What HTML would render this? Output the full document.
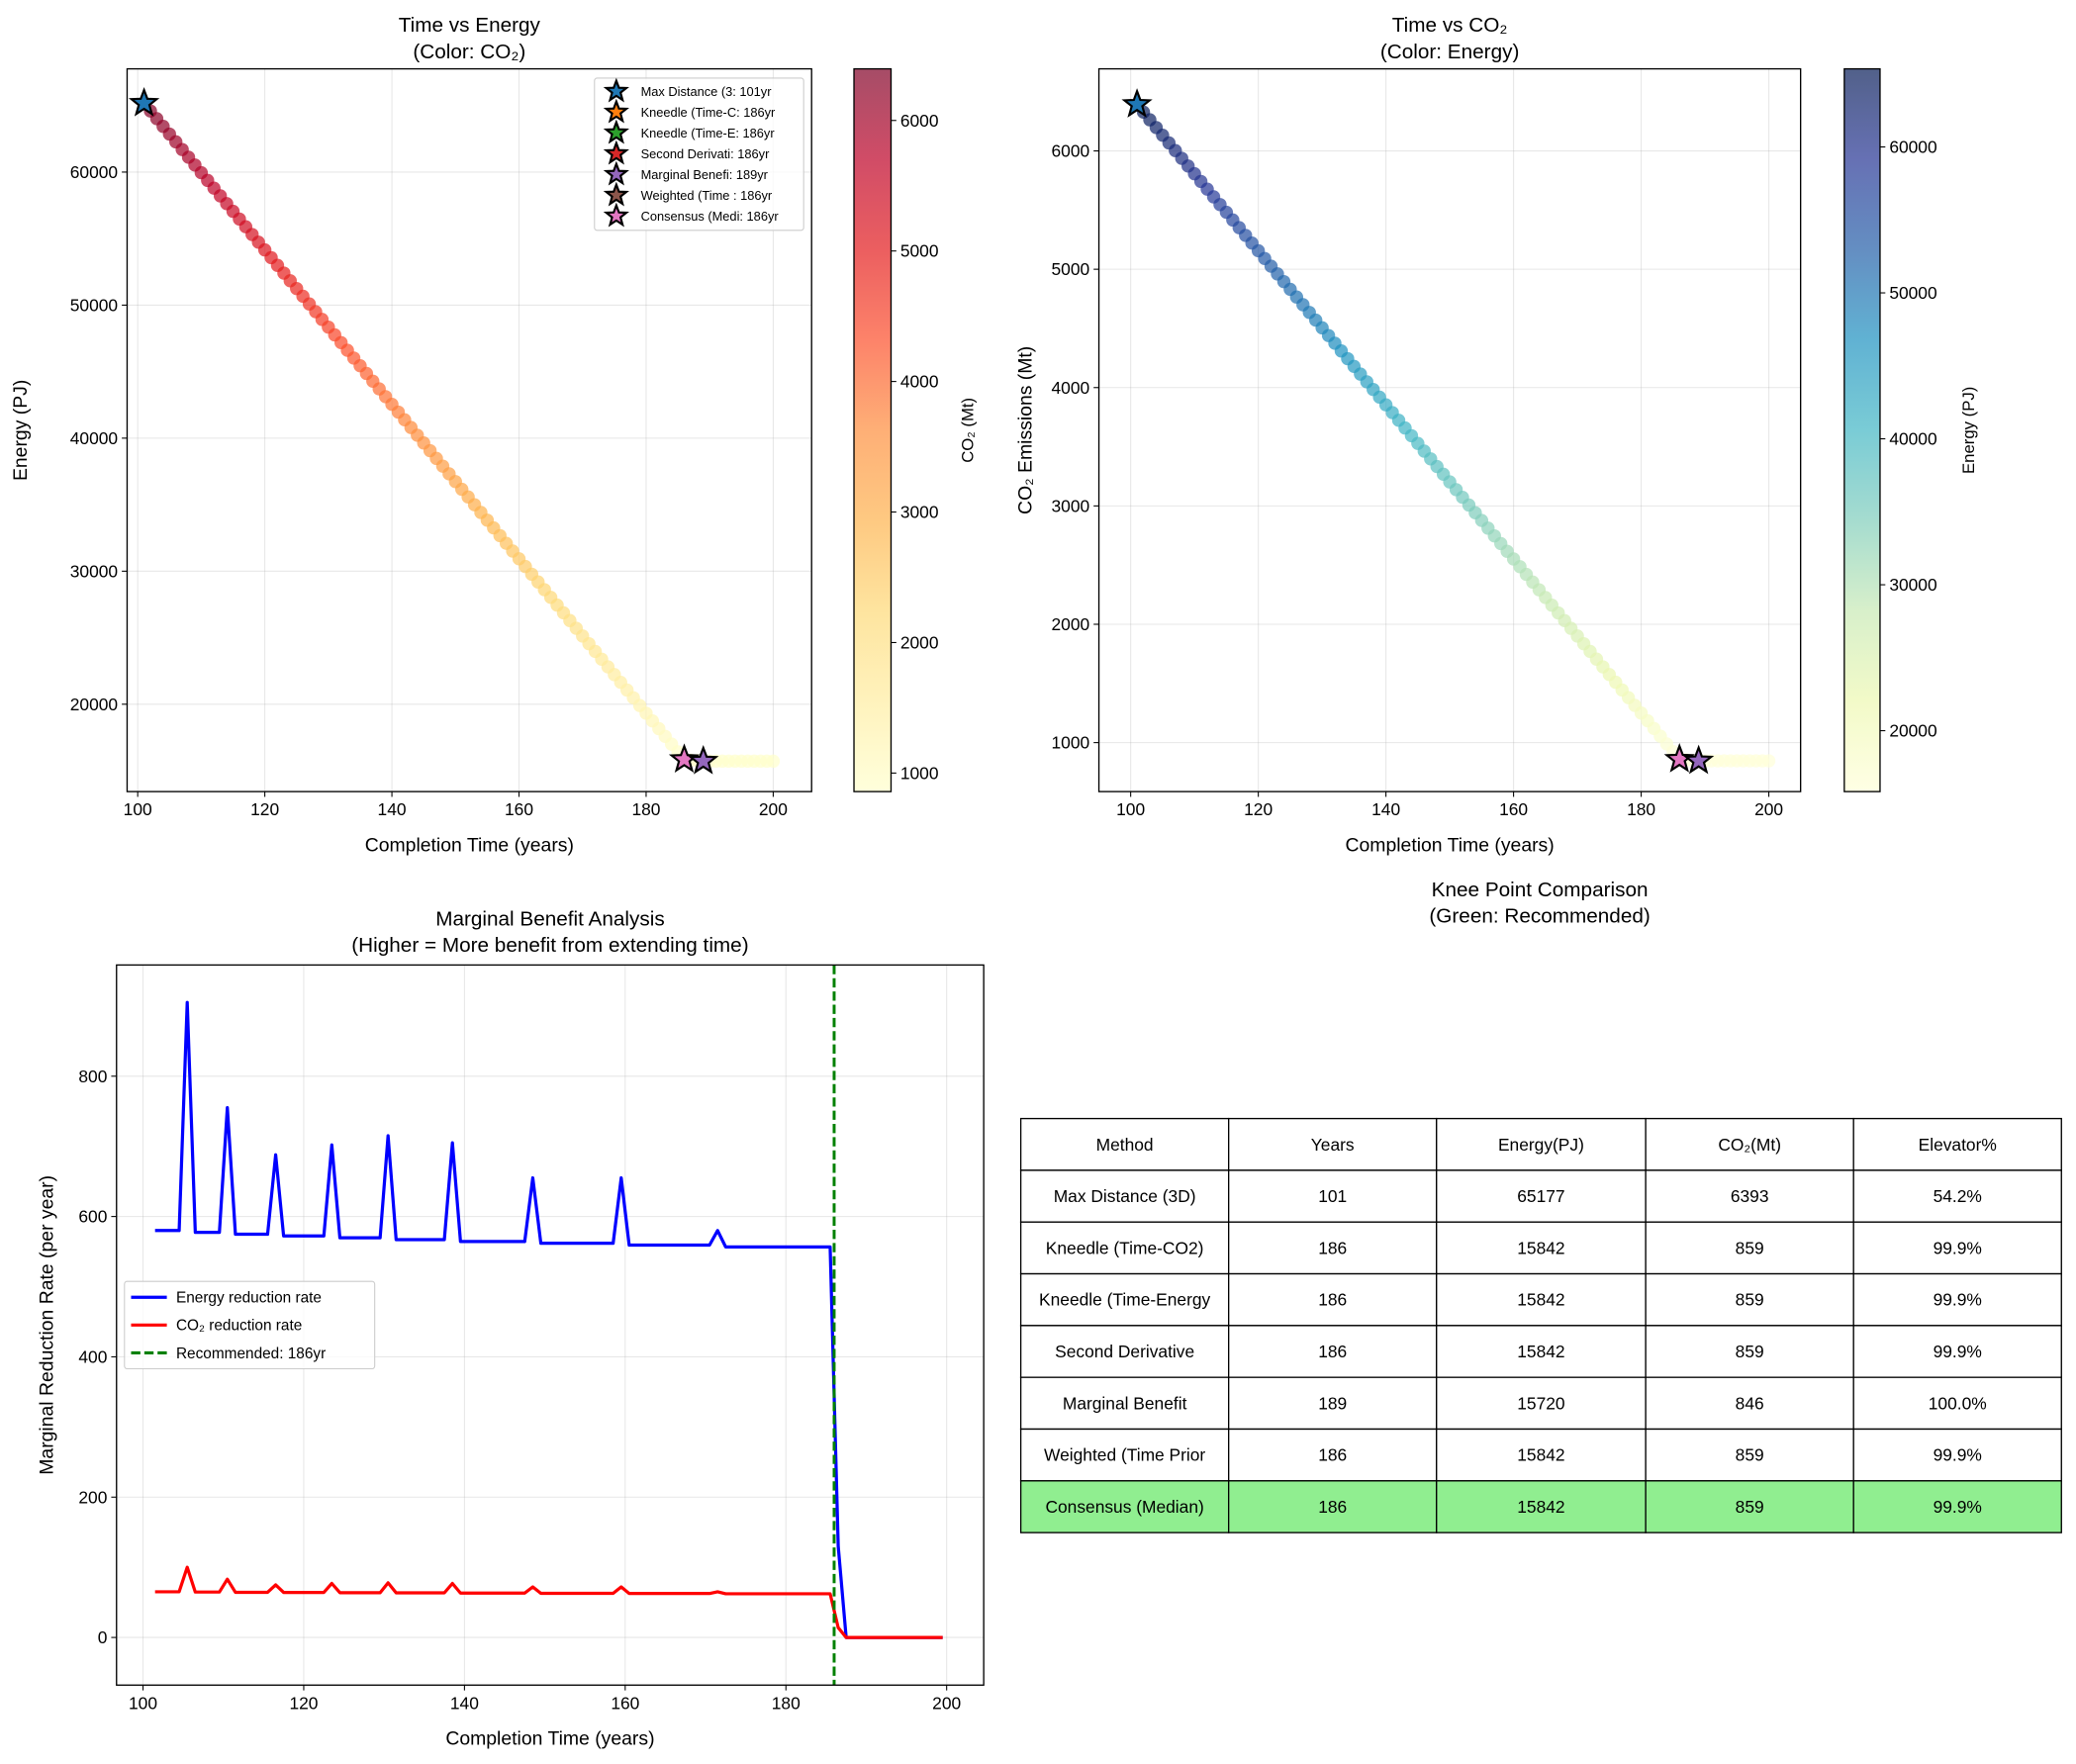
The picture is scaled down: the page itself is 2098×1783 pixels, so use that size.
<!DOCTYPE html>
<html><head><meta charset="utf-8"><style>
html,body{margin:0;padding:0;background:#fff}
svg{display:block}
text{font-family:"Liberation Sans",Arial,sans-serif;fill:#000}
</style></head><body>
<svg id="s" width="2098" height="1783" viewBox="0 0 1568 1332.6" xmlns="http://www.w3.org/2000/svg">
<rect width="1568" height="1333" fill="#fff"/>
<defs>
<linearGradient id="gYOR" x1="0" y1="1" x2="0" y2="0">
<stop offset="0" stop-color="#ffffcc"/><stop offset=".125" stop-color="#ffeda0"/><stop offset=".25" stop-color="#fed976"/><stop offset=".375" stop-color="#feb24c"/><stop offset=".5" stop-color="#fd8d3c"/><stop offset=".625" stop-color="#fc4e2a"/><stop offset=".75" stop-color="#e31a1c"/><stop offset=".875" stop-color="#bd0026"/><stop offset="1" stop-color="#800026"/>
</linearGradient>
<linearGradient id="gYGB" x1="0" y1="1" x2="0" y2="0">
<stop offset="0" stop-color="#ffffd9"/><stop offset=".125" stop-color="#edf8b1"/><stop offset=".25" stop-color="#c7e9b4"/><stop offset=".375" stop-color="#7fcdbb"/><stop offset=".5" stop-color="#41b6c4"/><stop offset=".625" stop-color="#1d91c0"/><stop offset=".75" stop-color="#225ea8"/><stop offset=".875" stop-color="#253494"/><stop offset="1" stop-color="#081d58"/>
</linearGradient>
</defs>
<g id="g"></g>
</svg>
<script>
const NS="http://www.w3.org/2000/svg",G=document.getElementById('g');
function el(t,a,txt){const e=document.createElementNS(NS,t);for(const k in a)e.setAttribute(k,a[k]);if(txt!==undefined)e.textContent=txt;G.appendChild(e);return e;}
function T(x,y,s,size,anchor,extra){const a={x:x,y:y,'font-size':size,'text-anchor':anchor||'middle'};if(extra)Object.assign(a,extra);return el('text',a,s);}
function hex(h){return [parseInt(h.substr(1,2),16),parseInt(h.substr(3,2),16),parseInt(h.substr(5,2),16)];}
function cmap(stops,v){v=Math.max(0,Math.min(1,v));const n=stops.length-1,i=Math.min(n-1,Math.floor(v*n)),f=v*n-i;const a=hex(stops[i]),b=hex(stops[i+1]);return 'rgb('+a.map((c,k)=>Math.round(c+(b[k]-c)*f)).join(',')+')';}
const YOR=["#ffffcc","#ffeda0","#fed976","#feb24c","#fd8d3c","#fc4e2a","#e31a1c","#bd0026","#800026"];
const YGB=["#ffffd9","#edf8b1","#c7e9b4","#7fcdbb","#41b6c4","#1d91c0","#225ea8","#253494","#081d58"];
function star(cx,cy,r,fill){let p=[];for(let i=0;i<10;i++){const a=-Math.PI/2+i*Math.PI/5,rr=i%2?r*0.42:r;p.push((cx+rr*Math.cos(a)).toFixed(1)+','+(cy+rr*Math.sin(a)).toFixed(1));}el('polygon',{points:p.join(' '),fill:fill,stroke:'#000','stroke-width':1.6,'stroke-linejoin':'miter'});}
const pts=[];
for(let t=101;t<=200;t++){let E,C;if(t<=186){E=65177+(15842-65177)*(t-101)/85;C=6393+(859-6393)*(t-101)/85;}else{E=15842-(t-186)*40;C=859-(t-186)*4.3;if(t>=189){E=15720;C=846;}}pts.push([t,E,C]);}
(function(){const L=96,R=613,Tp=52,B=598;const X=t=>104+(t-100)*4.8,Y=e=>130+(60000-e)*0.01005;
for(let t=100;t<=200;t+=20){const x=X(t);el('line',{x1:x,y1:Tp,x2:x,y2:B,stroke:'#b0b0b0','stroke-opacity':.3,'stroke-width':.8});el('line',{x1:x,y1:B,x2:x,y2:B+4,stroke:'#000','stroke-width':.8});T(x,B+18,t,13);}
for(let e=20000;e<=60000;e+=10000){const y=Y(e);el('line',{x1:L,y1:y,x2:R,y2:y,stroke:'#b0b0b0','stroke-opacity':.3,'stroke-width':.8});el('line',{x1:L-4,y1:y,x2:L,y2:y,stroke:'#000','stroke-width':.8});T(L-7,y+4.5,e,13,'end');}
pts.forEach(p=>el('circle',{cx:X(p[0]),cy:Y(p[1]),r:5,fill:cmap(YOR,(p[2]-859)/(6393-859)),'fill-opacity':.7}));
star(X(101),Y(65177),10,'#1f77b4');star(X(186),Y(15842),10,'#e377c2');star(X(189),Y(15720),10,'#9467bd');
el('rect',{x:L,y:Tp,width:R-L,height:B-Tp,fill:'none',stroke:'#000','stroke-width':1});
T((L+R)/2,24,'Time vs Energy',15.5);T((L+R)/2,44,'(Color: CO₂)',15.5);
T((L+R)/2,643,'Completion Time (years)',14.5);
T(0,0,'Energy (PJ)',14.5,'middle',{transform:'translate(20,325) rotate(-90)'});
el('rect',{x:449,y:59,width:158,height:115,rx:2,fill:'#fff','fill-opacity':.8,stroke:'#ccc','stroke-width':.8});
const lg=[['Max Distance (3: 101yr','#1f77b4'],['Kneedle (Time-C: 186yr','#ff7f0e'],['Kneedle (Time-E: 186yr','#2ca02c'],['Second Derivati: 186yr','#d62728'],['Marginal Benefi: 189yr','#9467bd'],['Weighted (Time : 186yr','#8c564b'],['Consensus (Medi: 186yr','#e377c2']];
lg.forEach((l,i)=>{const y=69+i*15.7;star(465.5,y,8,l[1]);T(484,y+3.5,l[0],9.6,'start');});
const cL=645,cR=673;el('rect',{x:cL,y:Tp,width:cR-cL,height:B-Tp,fill:'url(#gYOR)','fill-opacity':.7});el('rect',{x:cL,y:Tp,width:cR-cL,height:B-Tp,fill:'none',stroke:'#000','stroke-width':1});
for(let c=1000;c<=6000;c+=1000){const y=584-(c-1000)*0.0986;el('line',{x1:cR,y1:y,x2:cR+4,y2:y,stroke:'#000','stroke-width':.8});T(cR+7,y+4.5,c,13,'start');}
T(0,0,'CO₂ (Mt)',12.5,'middle',{transform:'translate(735,325) rotate(-90)'});
})();
(function(){const L=830,R=1360,Tp=52,B=598;const X=t=>854+(t-100)*4.82,Y=c=>114+(6000-c)*0.0894;
for(let t=100;t<=200;t+=20){const x=X(t);el('line',{x1:x,y1:Tp,x2:x,y2:B,stroke:'#b0b0b0','stroke-opacity':.3,'stroke-width':.8});el('line',{x1:x,y1:B,x2:x,y2:B+4,stroke:'#000','stroke-width':.8});T(x,B+18,t,13);}
for(let c=1000;c<=6000;c+=1000){const y=Y(c);el('line',{x1:L,y1:y,x2:R,y2:y,stroke:'#b0b0b0','stroke-opacity':.3,'stroke-width':.8});el('line',{x1:L-4,y1:y,x2:L,y2:y,stroke:'#000','stroke-width':.8});T(L-7,y+4.5,c,13,'end');}
pts.forEach(p=>el('circle',{cx:X(p[0]),cy:Y(p[2]),r:5,fill:cmap(YGB,(p[1]-15720)/(65177-15720)),'fill-opacity':.7}));
star(X(101),Y(6393),10,'#1f77b4');star(X(186),Y(859),10,'#e377c2');star(X(189),Y(846),10,'#9467bd');
el('rect',{x:L,y:Tp,width:R-L,height:B-Tp,fill:'none',stroke:'#000','stroke-width':1});
T((L+R)/2,24,'Time vs CO₂',15.5);T((L+R)/2,44,'(Color: Energy)',15.5);
T((L+R)/2,643,'Completion Time (years)',14.5);
T(0,0,'CO₂ Emissions (Mt)',14.5,'middle',{transform:'translate(779,325) rotate(-90)'});
const cL=1393,cR=1420;el('rect',{x:cL,y:Tp,width:cR-cL,height:B-Tp,fill:'url(#gYGB)','fill-opacity':.7});el('rect',{x:cL,y:Tp,width:cR-cL,height:B-Tp,fill:'none',stroke:'#000','stroke-width':1});
for(let e=20000;e<=60000;e+=10000){const y=552-(e-20000)*0.011025;el('line',{x1:cR,y1:y,x2:cR+4,y2:y,stroke:'#000','stroke-width':.8});T(cR+7,y+4.5,e,13,'start');}
T(0,0,'Energy (PJ)',12.5,'middle',{transform:'translate(1491,325) rotate(-90)'});
})();
(function(){const L=88,R=743,Tp=729,B=1273;const X=t=>108+(t-100)*6.07,Y=v=>1237-v*0.53;
for(let t=100;t<=200;t+=20){const x=X(t);el('line',{x1:x,y1:Tp,x2:x,y2:B,stroke:'#b0b0b0','stroke-opacity':.3,'stroke-width':.8});el('line',{x1:x,y1:B,x2:x,y2:B+4,stroke:'#000','stroke-width':.8});T(x,B+18,t,13);}
for(let v=0;v<=800;v+=200){const y=Y(v);el('line',{x1:L,y1:y,x2:R,y2:y,stroke:'#b0b0b0','stroke-opacity':.3,'stroke-width':.8});el('line',{x1:L-4,y1:y,x2:L,y2:y,stroke:'#000','stroke-width':.8});T(L-7,y+4.5,v,13,'end');}
const spikes={105.5:[905,100],110.5:[755,83],116.5:[688,75],123.5:[702,77],130.5:[715,78],138.5:[705,77],148.5:[655,72],159.5:[655,72],171.5:[580,65]};
let be=[],re=[],base=580,rb=65;
for(let t=101.5;t<=199.6;t+=1){let b,r;if(t<=185.6){if(spikes[t]){b=spikes[t][0];r=spikes[t][1];base-=2.6;rb-=0.3;}else{b=base;r=rb;}}else if(t<187){b=130;r=14;}else{b=0;r=0;}be.push(X(t).toFixed(1)+','+Y(b).toFixed(1));re.push(X(t).toFixed(1)+','+Y(r).toFixed(1));}
el('polyline',{points:be.join(' '),fill:'none',stroke:'#0000ff','stroke-width':2.4,'stroke-linejoin':'round'});
el('polyline',{points:re.join(' '),fill:'none',stroke:'#ff0000','stroke-width':2.4,'stroke-linejoin':'round'});
el('line',{x1:X(186),y1:Tp,x2:X(186),y2:B,stroke:'#008000','stroke-width':2.2,'stroke-dasharray':'7,3'});
el('rect',{x:L,y:Tp,width:R-L,height:B-Tp,fill:'none',stroke:'#000','stroke-width':1});
T((L+R)/2,699,'Marginal Benefit Analysis',15.5);T((L+R)/2,719,'(Higher = More benefit from extending time)',15.5);
T((L+R)/2,1318,'Completion Time (years)',14.5);
T(0,0,'Marginal Reduction Rate (per year)',14.5,'middle',{transform:'translate(40,1001) rotate(-90)'});
el('rect',{x:94,y:968,width:189,height:66,rx:2,fill:'#fff','fill-opacity':.8,stroke:'#ccc','stroke-width':.8});
[['Energy reduction rate','#0000ff',0],['CO₂ reduction rate','#ff0000',0],['Recommended: 186yr','#008000',1]].forEach((l,i)=>{const y=980+i*21;el('line',{x1:99,y1:y,x2:126,y2:y,stroke:l[1],'stroke-width':2.4,'stroke-dasharray':l[2]?'7,3':'none'});T(133,y+4,l[0],11.5,'start');});
})();
(function(){T(1163,677,'Knee Point Comparison',15.5);T(1163,697,'(Green: Recommended)',15.5);
const cols=[771,928,1085,1243,1400,1557],top=845,rh=39.1;
const rows=[['Method','Years','Energy(PJ)','CO₂(Mt)','Elevator%'],['Max Distance (3D)','101','65177','6393','54.2%'],['Kneedle (Time-CO2)','186','15842','859','99.9%'],['Kneedle (Time-Energy','186','15842','859','99.9%'],['Second Derivative','186','15842','859','99.9%'],['Marginal Benefit','189','15720','846','100.0%'],['Weighted (Time Prior','186','15842','859','99.9%'],['Consensus (Median)','186','15842','859','99.9%']];
rows.forEach((r,i)=>{const y=top+i*rh;r.forEach((c,j)=>{el('rect',{x:cols[j],y:y,width:cols[j+1]-cols[j],height:rh,fill:i==7?'#90ee90':'#fff',stroke:'#000','stroke-width':1});});});
rows.forEach((r,i)=>{const y=top+i*rh+rh/2+4.5;r.forEach((c,j)=>{T((cols[j]+cols[j+1])/2,y,c,13);});});
})();
</script>
</body></html>
